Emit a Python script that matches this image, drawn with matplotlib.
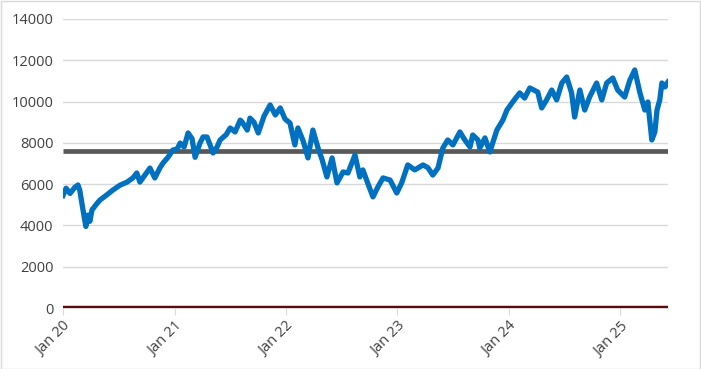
import numpy as np
import pandas as pd
import matplotlib
matplotlib.use("Agg")
import matplotlib.pyplot as plt
import matplotlib.dates as mdates
from matplotlib.patches import Rectangle

# ---- donnees ----
dates = [
    "2020-01-01", "2020-01-11", "2020-01-24", "2020-02-09", "2020-02-19", "2020-02-25",
    "2020-03-06", "2020-03-16", "2020-03-23", "2020-03-29", "2020-04-05", "2020-04-18",
    "2020-05-01", "2020-05-21", "2020-06-13", "2020-07-06", "2020-07-29", "2020-08-17",
    "2020-08-30", "2020-09-09", "2020-09-26", "2020-10-12", "2020-10-28", "2020-11-14",
    "2020-11-24", "2020-12-10", "2020-12-26", "2021-01-09", "2021-01-19", "2021-02-01",
    "2021-02-14", "2021-02-27", "2021-03-09", "2021-03-25", "2021-04-04", "2021-04-17",
    "2021-05-07", "2021-05-20", "2021-05-30", "2021-06-19", "2021-07-02", "2021-07-18",
    "2021-08-04", "2021-08-10", "2021-08-27", "2021-09-05", "2021-09-18", "2021-10-02",
    "2021-10-21", "2021-11-10", "2021-11-27", "2021-12-13", "2021-12-29", "2022-01-14",
    "2022-01-30", "2022-02-09", "2022-02-26", "2022-03-14", "2022-03-30", "2022-04-16",
    "2022-04-29", "2022-05-15", "2022-06-01", "2022-06-17", "2022-07-07", "2022-07-23",
    "2022-08-15", "2022-08-31", "2022-09-10", "2022-09-27", "2022-10-13", "2022-10-29",
    "2022-11-15", "2022-12-08", "2022-12-30", "2023-01-15", "2023-02-04", "2023-02-27",
    "2023-03-26", "2023-04-11", "2023-04-27", "2023-05-14", "2023-05-30", "2023-06-15",
    "2023-07-02", "2023-07-25", "2023-08-10", "2023-08-27", "2023-09-05", "2023-09-22",
    "2023-09-28", "2023-10-15", "2023-10-31", "2023-11-23", "2023-12-13", "2023-12-26",
    "2024-01-14", "2024-02-06", "2024-02-22", "2024-03-10", "2024-04-05", "2024-04-18",
    "2024-05-04", "2024-05-21", "2024-06-06", "2024-06-23", "2024-07-09", "2024-07-25",
    "2024-08-04", "2024-08-21", "2024-09-06", "2024-09-22", "2024-10-15", "2024-11-01",
    "2024-11-17", "2024-12-07", "2024-12-23", "2025-01-15", "2025-02-01", "2025-02-17",
    "2025-03-06", "2025-03-22", "2025-04-01", "2025-04-14", "2025-04-24", "2025-05-01",
    "2025-05-10", "2025-05-17", "2025-05-27", "2025-06-06",
]
values = [
    5450, 5800, 5550, 5850, 5960, 5700,
    4800, 3950, 4500, 4200, 4750, 5000,
    5230, 5450, 5720, 5950, 6100, 6300,
    6540, 6100, 6450, 6780, 6300, 6800,
    7025, 7300, 7650, 7700, 7990, 7800,
    8480, 8200, 7300, 7990, 8285, 8285,
    7510, 7800, 8140, 8400, 8720, 8530,
    9100, 9010, 8620, 9200, 9000, 8480,
    9300, 9835, 9350, 9690, 9150, 8960,
    7900, 8720, 8100, 7270, 8620, 7750,
    7200, 6350, 7270, 6060, 6590, 6540,
    7410, 6350, 6690, 6000, 5380, 5860,
    6300, 6200, 5570, 6060, 6930, 6690,
    6930, 6800, 6440, 6780, 7750, 8140,
    7900, 8530, 8140, 7800, 8380, 8140,
    7750, 8240, 7560, 8620, 9110, 9590,
    9980, 10420, 10170, 10660, 10460, 9690,
    10080, 10560, 10080, 10900, 11190, 10420,
    9250, 10560, 9590, 10220, 10900, 10080,
    10900, 11140, 10560, 10220, 11040, 11530,
    10420, 9590, 9980, 8140, 8530, 9590,
    10080, 10900, 10710, 10950,
]
niveau_moyen = 7620   # ligne grise horizontale
niveau_zero = 0       # ligne rouge foncee
y_ticks = [0, 2000, 4000, 6000, 8000, 10000, 12000, 14000]
x_ticks = ["2020-01-01", "2021-01-01", "2022-01-01", "2023-01-01", "2024-01-01", "2025-01-01"]
x_labels = ["Jan 20", "Jan 21", "Jan 22", "Jan 23", "Jan 24", "Jan 25"]

d = pd.to_datetime(dates)
xt = pd.to_datetime(x_ticks)

plt.rcParams["font.family"] = ["Open Sans", "DejaVu Sans"]

fig = plt.figure(figsize=(7.01, 3.69), dpi=100)
ax = fig.add_axes([63 / 701, 1 - 308 / 369, 605 / 701, 289 / 369])

ax.plot([d[0], d[-1]], [niveau_zero, niveau_zero], color="#5c0a0f", linewidth=3.2,
        solid_capstyle="butt", zorder=3)
ax.plot([d[0], d[-1]], [niveau_moyen, niveau_moyen], color="#595959", linewidth=3.4,
        solid_capstyle="butt", zorder=3)
ax.plot(d, values, color="#0070c0", linewidth=3.8, solid_joinstyle="round", zorder=4)

ax.set_xlim(d[0], d[-1])
ax.set_ylim(0, 14000)
ax.set_yticks(y_ticks)
ax.set_yticklabels([str(v) for v in y_ticks])
ax.set_xticks(xt)
ax.set_xticklabels(x_labels, rotation=45, ha="right", rotation_mode="anchor")
ax.grid(axis="y", color="#d9d9d9", linewidth=1.0)
ax.set_axisbelow(True)

for s in ["top", "right", "left"]:
    ax.spines[s].set_visible(False)
ax.spines["bottom"].set_color("#d9d9d9")
ax.tick_params(axis="y", length=0, pad=7, labelsize=10.5, labelcolor="#404040")
ax.tick_params(axis="x", length=5, color="#d9d9d9", pad=3, labelsize=10.5, labelcolor="#404040")

# cadre de la zone de graphique (style Excel)
fig.patches.append(Rectangle((0.5 / 701, 0.5 / 369), 1 - 1.5 / 701, 1 - 1.5 / 369,
                             transform=fig.transFigure, fill=False,
                             edgecolor="#d9d9d9", linewidth=1.0))

fig.savefig("out.png", dpi=100)
